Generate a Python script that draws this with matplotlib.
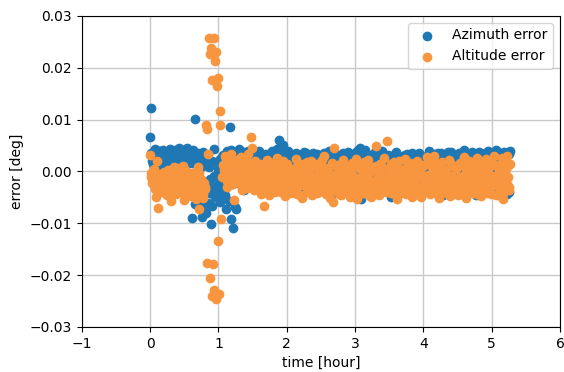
import numpy as np
import matplotlib
matplotlib.use("Agg")
import matplotlib.pyplot as plt

# time of each sample [hour]
time_a = [0.00, 0.02, 0.04, 0.06, 0.08, 0.10, 0.12, 0.14, 0.16, 0.18,
          0.20, 0.22, 0.24, 0.26, 0.28, 0.30, 0.32, 0.34, 0.36, 0.38,
          0.40, 0.42, 0.44, 0.46, 0.48, 0.50, 0.52, 0.54, 0.56, 0.58,
          0.60, 0.62, 0.64, 0.66, 0.68, 0.70, 0.72, 0.74, 0.76, 0.78, 0.80]
time_e = [0.01, 0.03, 0.05, 0.07, 0.09, 0.11, 0.13, 0.15, 0.17, 0.19,
          0.21, 0.23, 0.25, 0.27, 0.29, 0.31, 0.33, 0.35, 0.37, 0.39,
          0.41, 0.43, 0.45, 0.47, 0.49, 0.51, 0.53, 0.55, 0.57, 0.59,
          0.61, 0.63, 0.65, 0.67, 0.69, 0.71, 0.73, 0.75, 0.77, 0.79]
time_b = [0.81, 0.82, 0.83, 0.84, 0.85, 0.86, 0.87, 0.88, 0.89, 0.90,
          0.91, 0.92, 0.93, 0.94, 0.95, 0.96, 0.97, 0.98, 0.99, 1.00,
          1.01, 1.02, 1.03, 1.04, 1.05]
time_c = [1.07, 1.09, 1.11, 1.13, 1.15, 1.17, 1.19, 1.21, 1.23, 1.25,
          1.27, 1.29, 1.31, 1.33, 1.35, 1.37, 1.39, 1.41, 1.43, 1.45,
          1.47, 1.49, 1.51, 1.53, 1.55, 1.57, 1.59, 1.61, 1.63, 1.65,
          1.67, 1.69, 1.71, 1.73, 1.75, 1.77, 1.79, 1.81, 1.83, 1.85,
          1.87, 1.89, 1.91, 1.93, 1.95, 1.97, 1.99, 2.01, 2.03, 2.05,
          2.07, 2.09, 2.11, 2.13, 2.15, 2.17, 2.19, 2.21, 2.23, 2.25,
          2.27, 2.29, 2.31, 2.33, 2.35, 2.37, 2.39, 2.41, 2.43, 2.45,
          2.47, 2.49, 2.51, 2.53, 2.55, 2.57, 2.59, 2.61, 2.63, 2.65,
          2.67, 2.69, 2.71, 2.73, 2.75, 2.77, 2.79, 2.81, 2.83, 2.85,
          2.87, 2.89, 2.91, 2.93, 2.95, 2.97, 2.99, 3.01, 3.03, 3.05,
          3.07, 3.09, 3.11, 3.13, 3.15, 3.17, 3.19, 3.21, 3.23, 3.25,
          3.27, 3.29, 3.31, 3.33, 3.35, 3.37, 3.39, 3.41, 3.43, 3.45,
          3.47, 3.49, 3.51, 3.53, 3.55, 3.57, 3.59, 3.61, 3.63, 3.65,
          3.67, 3.69, 3.71, 3.73, 3.75, 3.77, 3.79, 3.81, 3.83, 3.85,
          3.87, 3.89, 3.91, 3.93, 3.95, 3.97, 3.99, 4.01, 4.03, 4.05,
          4.07, 4.09, 4.11, 4.13, 4.15, 4.17, 4.19, 4.21, 4.23, 4.25,
          4.27, 4.29, 4.31, 4.33, 4.35, 4.37, 4.39, 4.41, 4.43, 4.45,
          4.47, 4.49, 4.51, 4.53, 4.55, 4.57, 4.59, 4.61, 4.63, 4.65,
          4.67, 4.69, 4.71, 4.73, 4.75, 4.77, 4.79, 4.81, 4.83, 4.85,
          4.87, 4.89, 4.91, 4.93, 4.95, 4.97, 4.99, 5.01, 5.03, 5.05,
          5.07, 5.09, 5.11, 5.13, 5.15, 5.17, 5.19, 5.21, 5.23, 5.25,
          5.27]
time_d = [1.08, 1.10, 1.12, 1.14, 1.16, 1.18, 1.20, 1.22, 1.24, 1.26,
          1.28, 1.30, 1.32, 1.34, 1.36, 1.38, 1.40, 1.42, 1.44, 1.46,
          1.48, 1.50, 1.52, 1.54, 1.56, 1.58, 1.60, 1.62, 1.64, 1.66,
          1.68, 1.70, 1.72, 1.74, 1.76, 1.78, 1.80, 1.82, 1.84, 1.86,
          1.88, 1.90, 1.92, 1.94, 1.96, 1.98, 2.00, 2.02, 2.04, 2.06,
          2.08, 2.10, 2.12, 2.14, 2.16, 2.18, 2.20, 2.22, 2.24, 2.26,
          2.28, 2.30, 2.32, 2.34, 2.36, 2.38, 2.40, 2.42, 2.44, 2.46,
          2.48, 2.50, 2.52, 2.54, 2.56, 2.58, 2.60, 2.62, 2.64, 2.66,
          2.68, 2.70, 2.72, 2.74, 2.76, 2.78, 2.80, 2.82, 2.84, 2.86,
          2.88, 2.90, 2.92, 2.94, 2.96, 2.98, 3.00, 3.02, 3.04, 3.06,
          3.08, 3.10, 3.12, 3.14, 3.16, 3.18, 3.20, 3.22, 3.24, 3.26,
          3.28, 3.30, 3.32, 3.34, 3.36, 3.38, 3.40, 3.42, 3.44, 3.46,
          3.48, 3.50, 3.52, 3.54, 3.56, 3.58, 3.60, 3.62, 3.64, 3.66,
          3.68, 3.70, 3.72, 3.74, 3.76, 3.78, 3.80, 3.82, 3.84, 3.86,
          3.88, 3.90, 3.92, 3.94, 3.96, 3.98, 4.00, 4.02, 4.04, 4.06,
          4.08, 4.10, 4.12, 4.14, 4.16, 4.18, 4.20, 4.22, 4.24, 4.26,
          4.28, 4.30, 4.32, 4.34, 4.36, 4.38, 4.40, 4.42, 4.44, 4.46,
          4.48, 4.50, 4.52, 4.54, 4.56, 4.58, 4.60, 4.62, 4.64, 4.66,
          4.68, 4.70, 4.72, 4.74, 4.76, 4.78, 4.80, 4.82, 4.84, 4.86,
          4.88, 4.90, 4.92, 4.94, 4.96, 4.98, 5.00, 5.02, 5.04, 5.06,
          5.08, 5.10, 5.12, 5.14, 5.16, 5.18, 5.20, 5.22, 5.24, 5.26]

# azimuth error [1e-3 deg]
az_a = [6.6, 12.2, 1.5, 4.0, -1.2, 2.8, 3.6, 0.8, 3.9, 2.2,
        3.0, -2.5, 1.8, 3.7, 0.5, 3.3, 2.5, -1.0, 4.2, 1.2,
        2.9, 4.5, -0.5, 3.4, 2.0, 3.8, -3.2, 4.6, 1.6, 3.1,
        -4.5, -8.9, 2.4, 10.2, -5.5, 3.6, -2.0, 0.9, -8.8, 2.7, -7.9]
az_e = [3.5, 2.0, 0.6, 4.3, 2.6, 1.4, 3.9, -0.8, 2.9, 4.1,
        1.0, 3.2, 2.3, -1.6, 4.4, 1.9, 3.0, 0.3, 2.6, 3.9,
        1.3, 4.0, -2.6, 2.8, 3.5, 0.9, 4.4, 2.1, -3.8, 3.3,
        1.7, 4.1, -6.2, 2.4, 3.0, -4.0, 1.5, -6.5, 3.7, -3.0]
az_b = [1.2, -8.0, 3.0, -2.5, -6.0, 0.8, -4.2, -1.5, -10.1, -6.6,
        2.0, -3.5, 4.3, -0.8, -5.0, 1.8, -2.8, -4.6, 0.4, -3.2,
        -1.8, -5.8, 2.5, -2.2, -4.0]
az_c = [3.2, -4.5, -7.3, 3.5, -1.0, 8.5, -9.2, -10.9, 2.4, -7.3,
        3.6, -2.2, 1.0, -0.5, 3.1, -3.5, 2.6, -1.2, 4.0, 0.6,
        2.8, -2.6, 3.4, 0.2, -1.8, 3.0, 1.4, -3.2, 2.3, 0.9,
        -0.4, 3.3, 1.8, -2.9, 2.7, 0.5, 3.9, -1.6, 2.1, 4.3,
        1.1, 6.0, 3.6, -2.0, 5.2, 2.4, -3.8, 1.7, 3.0, -1.3,
        2.6, 0.4, -2.7, 3.5, 1.3, -0.9, 2.9, -4.0, 1.9, 3.8,
        0.7, -2.3, 2.2, 3.1, -1.1, 1.6, -3.4, 2.8, 0.3, 3.3,
        -1.7, 2.5, 1.0, -3.0, 3.6, 0.5, 2.0, -2.1, 1.4, 2.9,
        -4.2, 1.8, 3.2, -0.6, 2.4, 0.9, -2.5, 3.0, 1.2, -1.4,
        2.7, -3.1, 1.5, 3.4, 0.1, -2.0, 2.2, 3.7, -0.8, 1.9,
        4.5, -5.3, 2.6, 0.6, 3.5, -1.9, 1.3, 3.1, -3.6, 2.0,
        0.8, 3.8, -2.4, 1.7, 2.9, -0.7, 3.4, 0.3, -3.3, 2.5,
        1.2, -1.5, 3.0, -5.0, 2.1, 0.4, 3.3, -2.6, 1.6, -4.1,
        2.8, 0.9, -1.2, 3.1, 1.9, -3.7, 2.3, 0.0, 3.6, -2.2,
        1.4, 2.7, -0.5, -4.4, 3.2, 1.1, -2.8, 2.5, 0.6, 3.0,
        -1.8, 2.0, 3.4, -3.9, 0.8, 2.6, -0.3, 3.5, 1.5, -2.4,
        2.9, -4.6, 1.0, 3.2, -1.0, 2.2, 0.4, 3.7, -3.1, 1.8,
        3.0, -0.6, 2.4, -4.3, 1.3, 3.6, -2.0, 0.7, 2.7, 3.3,
        -3.5, 1.9, 3.8, -1.4, 2.5, -4.5, 1.0, 3.4, 0.2, 2.8,
        -2.7, 3.1, 1.6, -0.9, 3.9, -3.8, 2.3, 0.5, 3.5, -1.6,
        2.6, 3.7, -4.0, 1.2, 3.3, -2.3, 0.8, 2.9, 3.6, -3.9,
        4.0]
az_d = [2.0, -3.0, 3.9, 0.5, -5.6, 4.2, -2.4, 1.2, -6.8, 3.0,
        -1.0, 4.4, 0.2, 2.5, -2.8, 3.7, -0.6, 1.9, 2.2, -1.7,
        1.0, 3.6, -0.9, 2.6, 0.4, -2.1, 3.9, 1.7, -0.2, 2.0,
        3.0, -1.1, 0.7, 2.2, -2.4, 1.5, 2.8, 0.1, -3.3, 1.6,
        4.6, 2.0, -0.7, 3.1, 0.9, -1.6, 2.6, 4.0, 0.3, 2.3,
        -1.5, 3.0, 1.8, -0.2, 2.5, -3.1, 1.1, 3.2, -1.0, 2.1,
        3.6, 0.8, -1.9, 2.4, 1.3, 3.5, -0.4, 1.9, -2.7, 2.7,
        0.6, 3.2, -1.3, 1.8, 2.6, -3.5, 0.9, 3.9, 1.4, -0.7,
        2.5, -1.8, 3.4, 0.7, -3.7, 2.1, 1.3, 3.6, -0.9, 2.2,
        1.0, 3.7, -2.5, 2.0, 0.4, 2.8, -1.4, 1.6, 4.1, -0.3,
        3.3, 1.2, -2.2, 4.2, 0.5, 2.4, -1.7, 3.0, 1.1, -4.2,
        2.1, -0.8, 3.5, 1.4, -2.9, 2.6, 4.0, 0.2, 1.8, -1.5,
        3.2, 0.6, -2.0, 2.4, 1.5, -0.6, 3.7, 2.0, -3.0, 1.2,
        -1.1, 2.9, 1.6, -2.7, 3.4, 0.8, 2.2, -1.6, 1.4, 3.1,
        2.3, -2.0, 0.9, 3.6, 1.7, -0.9, 2.8, -3.4, 1.3, 2.5,
        3.9, 0.7, -1.5, 2.2, 3.3, -2.6, 1.2, 2.7, -0.6, 3.6,
        -2.1, 1.6, 2.9, -0.4, 3.8, 1.0, -3.3, 2.4, 3.1, 0.3,
        1.8, -2.9, 3.5, 0.9, -1.3, 2.6, 4.1, -0.5, 1.5, -3.7,
        2.9, 0.4, -2.4, 3.3, 1.1, 2.2, -1.8, 3.7, -4.0, 1.9,
        0.8, 3.6, -1.2, 2.5, -3.2, 1.4, 3.0, -0.7, 2.1, 4.2,
        -2.8, 1.7, 3.2, 0.0, -1.9, 3.8, 2.4, -4.4, 1.3, 3.4]

# altitude error [1e-3 deg]
alt_a = [3.1, -0.3, -1.5, -2.4, -5.0, 2.1, -7.1, -1.0, -3.2, -0.6,
         -2.0, -4.1, -1.3, 0.2, -2.8, -5.6, -0.9, -3.5, -1.8, -4.4,
         0.6, -2.6, -1.1, -3.9, 1.0, -5.5, -2.2, -0.4, -3.0, -1.6,
         -4.8, -0.2, -2.7, -3.7, -1.4, 0.8, -7.3, -4.3, -2.1, -5.2, -3.4]
alt_e = [-1.0, -2.2, 0.4, -3.3, -1.6, -4.2, -0.5, -2.5, -1.2, -3.6,
         -0.1, -2.9, -4.5, -1.7, -0.7, -3.1, -2.0, 0.9, -3.8, -1.3,
         -2.4, -0.6, -4.0, -1.9, -3.2, 0.3, -2.6, -1.0, -4.6, -2.2,
         -3.5, -0.8, -1.7, -5.3, -2.9, -0.3, -3.9, -1.5, -4.4, -2.3]
alt_b = [-3.0, 9.0, 8.2, -17.7, 3.4, 25.7, 22.7, -20.6, 23.8, -24.1,
         17.7, -17.8, 25.7, -22.8, 21.4, 23.0, -24.6, 16.4, -13.5, 18.0,
         -23.6, 11.6, 9.0, -9.2, -1.0]
alt_c = [1.2, -0.8, 2.4, -2.9, 0.5, 1.8, -1.5, 2.2, -5.5, 0.9,
         -2.0, 1.6, -0.3, 2.8, -3.6, 0.4, 1.9, -1.1, 3.3, -2.4,
         6.6, 4.6, -1.4, 2.0, -3.0, 0.7, -2.2, 1.5, -4.4, -0.6,
         -6.6, -1.9, 2.3, -0.4, -3.3, 1.0, -2.5, 0.3, -4.0, 2.6,
         -1.2, -3.6, 0.8, -2.0, 2.1, -4.8, -0.5, 1.4, -2.9, -1.6,
         -3.8, 0.2, -1.7, 2.4, -4.3, -0.9, 1.1, -2.6, -5.2, 0.5,
         -2.2, 1.8, -3.5, -0.7, 2.0, -4.6, -1.3, 0.9, -2.8, 1.5,
         -4.0, -0.2, 2.3, -2.5, 3.0, -1.1, -3.8, 0.6, -5.1, -1.8,
         -5.8, 4.5, -0.6, -3.1, 1.2, -2.4, -4.5, 0.0, 2.2, -1.5,
         -3.4, 0.9, -2.0, -4.9, 1.7, -0.8, -3.0, 2.5, -5.4, -1.2,
         -2.6, 0.4, -4.2, 1.9, -1.6, -3.7, 2.2, -0.3, -5.0, -2.1,
         0.7, -3.2, 5.0, -1.0, -4.6, 1.4, -2.3, -0.6, 2.6, -3.9,
         5.8, -1.8, 0.5, -4.1, -2.7, 1.8, -0.9, -5.3, -1.5, 2.1,
         -3.3, 0.2, -1.9, 2.4, -4.4, -0.7, 1.3, -2.6, -4.9, 0.8,
         -1.4, -3.6, 2.0, -0.2, -2.9, -5.0, 1.1, -1.7, -3.8, 2.7,
         -0.6, -4.3, 1.5, -2.2, 2.9, -3.4, -1.1, 0.6, -5.2, -2.5,
         1.9, -1.3, -3.9, 0.3, -2.0, 2.3, -4.7, -0.8, 1.0, -3.1,
         -2.4, 0.9, -4.5, 1.6, -1.2, -3.3, 2.8, -0.4, -5.1, -1.9,
         2.0, -2.7, -0.5, -4.2, 1.3, -1.6, 2.6, -3.5, -0.9, -4.8,
         0.5, -2.1, 2.4, -3.7, -0.3, 1.7, -4.4, -1.4, 2.9, -2.6,
         -0.7, -4.5, 1.2, -2.3, 2.6, -5.3, -1.1, 0.4, 3.0, -3.0,
         1.5]
alt_d = [0.3, 2.9, -1.8, 1.1, -0.4, 3.4, 0.8, -2.5, 1.6, -0.9,
         2.3, -1.4, 0.6, -2.7, 1.4, -0.2, 2.6, -3.1, 0.0, 1.2,
         -2.0, 0.2, -3.5, -0.9, 1.1, -2.6, -1.0, -4.0, 0.4, -2.4,
         -3.4, 0.6, -1.3, -4.6, -0.6, 1.6, -2.8, -1.5, 0.9, -3.0,
         -2.4, -0.8, -4.0, 0.4, -1.9, -3.2, 1.1, -2.3, -0.3, -4.2,
         -1.1, -2.9, 0.7, -3.6, -1.5, -0.2, -4.5, -2.0, 1.5, -2.7,
         -0.4, -3.9, -1.8, 0.5, -2.6, -1.0, -3.3, 1.3, -4.1, -0.7,
         -2.2, 1.2, -3.4, -0.9, -1.7, -4.4, 0.3, -2.9, -1.2, 1.7,
         -3.6, -1.0, -2.2, 0.8, -4.3, -1.9, 1.5, -3.0, -0.5, -2.7,
         -1.6, -4.0, 0.2, -2.6, -0.7, -3.5, 1.0, -1.8, -4.6, 0.6,
         -3.9, -1.2, 1.2, -2.8, -0.3, -4.4, -1.6, 0.8, -2.4, -3.3,
         -1.9, 1.0, -3.1, -0.1, -2.5, -4.0, 0.9, -1.4, -3.7, -0.8,
         -2.3, -3.8, 1.4, -1.2, -0.2, -3.0, -4.6, 0.6, -2.0, -1.1,
         -0.8, -2.7, -4.1, 0.7, -1.5, -3.2, 1.7, -2.3, -0.5, -3.7,
         -2.6, 0.5, -1.0, -3.4, -4.7, -0.6, 1.2, -2.1, -3.0, -1.3,
         -3.8, -1.4, 0.9, -2.7, -0.4, -4.2, 1.6, -1.9, -3.1, -0.1,
         -1.7, -3.5, 0.1, -2.0, -4.4, -0.9, 1.4, -2.8, -1.2, -3.9,
         0.4, -2.2, -3.7, -1.0, 1.2, -4.0, -1.8, 0.7, -2.9, -3.3,
         -1.3, 1.1, -3.0, -0.6, -2.4, -4.3, 0.5, -1.6, -3.6, 1.5,
         -2.5, -0.5, -4.1, -1.8, 0.9, -3.2, -0.9, -2.7, 1.3, -4.6,
         -1.5, 0.2, -3.4, -2.1, -0.3, -4.0, 1.8, -2.4, -1.0, -3.6]

t = np.array(time_a + time_e + time_b + time_c + time_d)
az = np.array(az_a + az_e + az_b + az_c + az_d) / 1000.0
alt = np.array(alt_a + alt_e + alt_b + alt_c + alt_d) / 1000.0

fig = plt.figure(figsize=(5.64, 3.72), dpi=100)
ax = fig.add_axes([0.145, 0.121, 0.848, 0.836])

ax.scatter(t, az, color='#1f77b4', label='Azimuth error', zorder=2)
ax.scatter(t, alt, color='#f8963f', label='Altitude error', zorder=3)

ax.set_xlim(-1, 6)
ax.set_ylim(-0.03, 0.03)
ax.set_yticks([-0.03, -0.02, -0.01, 0.0, 0.01, 0.02, 0.03])
ax.set_xlabel('time [hour]')
ax.set_ylabel('error [deg]')
ax.grid(True, color='#c8c8c8', linewidth=1, zorder=0)
ax.set_axisbelow(True)
ax.legend(loc='upper right')

fig.savefig('out.png', dpi=100)
